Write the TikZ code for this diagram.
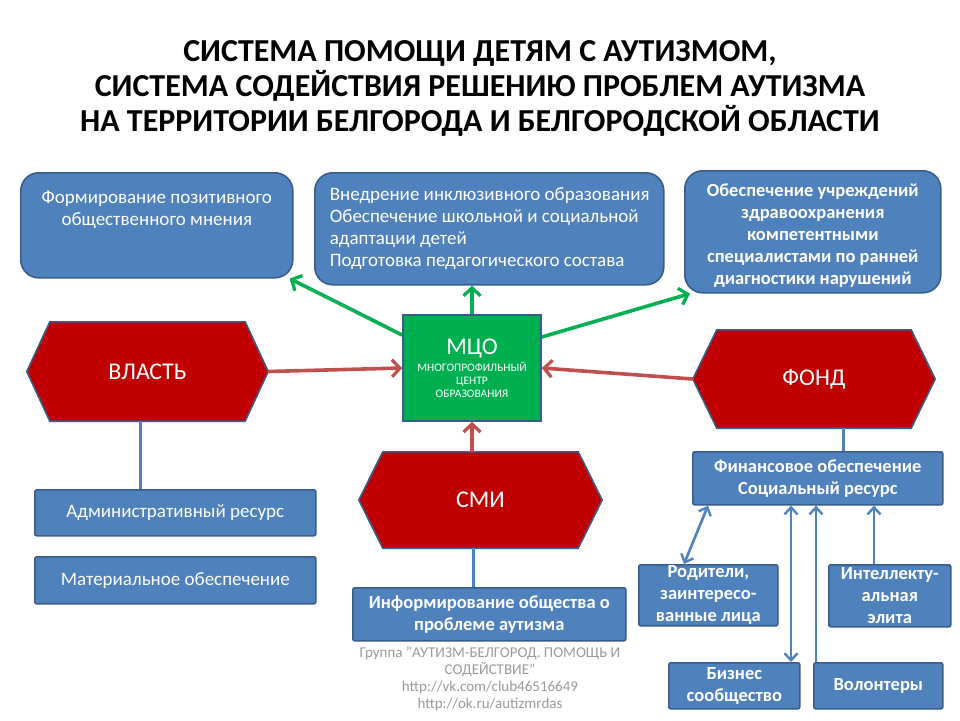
\documentclass[tikz,border=0pt]{standalone}
\usepackage{fontspec}
\setmainfont{Carlito}
\usetikzlibrary{arrows.meta,backgrounds}
\definecolor{boxblue}{HTML}{4F81BD}
\definecolor{boxedge}{HTML}{385D8A}
\definecolor{hexred}{HTML}{C00000}
\definecolor{arrred}{HTML}{C0504D}
\definecolor{arrgreen}{HTML}{00B050}
\definecolor{foot}{HTML}{9A9A9A}
\begin{document}
\begin{tikzpicture}[x=1pt,y=-1pt,
  rbox/.style={fill=boxblue,draw=boxedge,line width=1.6pt,rounded corners=18pt,text=white,inner sep=0pt,anchor=north west},
  sbox/.style={fill=boxblue,draw=boxedge,line width=1.6pt,rounded corners=2pt,text=white,inner sep=0pt,anchor=north west,align=center},
  hexn/.style={inner sep=0pt,text=white,font=\fontsize{24}{28}\selectfont},
  hexshape/.style={fill=hexred,draw=boxedge,line width=1.6pt},
  garrow/.style={draw=arrgreen,line width=3.6pt,-{Straight Barb[length=8pt,width=17pt,line width=3.2pt]}},
  rarrow/.style={draw=arrred,line width=3.6pt,-{Straight Barb[length=8pt,width=17pt,line width=3.2pt]}},
  bline/.style={draw=boxblue,line width=3pt},
  barrow/.style={draw=boxblue,line width=2.6pt,-{Straight Barb[length=7pt,width=13pt,line width=2.4pt]}},
  bdbl/.style={draw=boxblue,line width=2.6pt,{Straight Barb[length=7pt,width=13pt,line width=2.4pt]}-{Straight Barb[length=7pt,width=13pt,line width=2.4pt]}},
  regtxt/.style={font=\fontsize{19}{22}\selectfont},
  boldtxt/.style={font=\fontsize{18.5}{22}\selectfont\bfseries}
]
\useasboundingbox (0,0) rectangle (960,720);
\clip (0,0) rectangle (960,720);

% title
\node[font=\fontsize{32}{35}\selectfont\bfseries,align=center] (title) at (480,88)
  {СИСТЕМА ПОМОЩИ ДЕТЯМ С АУТИЗМОМ,\\СИСТЕМА СОДЕЙСТВИЯ РЕШЕНИЮ ПРОБЛЕМ АУТИЗМА\\НА ТЕРРИТОРИИ БЕЛГОРОДА И БЕЛГОРОДСКОЙ ОБЛАСТИ};

% top boxes
\node[rbox,regtxt,minimum width=272pt,minimum height=105pt] (opin) at (20,172)
  {\parbox[c][105pt][t]{268pt}{\centering\rule{0pt}{31pt}Формирование позитивного\\общественного мнения}};
\node[rbox,regtxt,minimum width=349pt,minimum height=112pt] (incl) at (314,172)
  {\parbox[c][112pt][c]{349pt}{\leftskip=15pt\rightskip=0pt plus 1fil\parindent=0pt Внедрение инклюзивного образования\\Обеспечение школьной и социальной\\адаптации детей\\Подготовка педагогического состава}};
\node[rbox,boldtxt,minimum width=256pt,minimum height=122pt,align=center] (health) at (684,170)
  {\rule{0pt}{20pt}Обеспечение учреждений\\здравоохранения\\компетентными\\специалистами по ранней\\диагностики нарушений};

% MCO
\node[fill=arrgreen,draw=boxedge,line width=1.6pt,minimum width=138pt,minimum height=106pt,text=white,align=center,inner sep=0pt,font=\fontsize{11.5}{13}\selectfont] (mco) at (472,368)
  {{\fontsize{24}{24}\selectfont МЦО}\\[3pt]МНОГОПРОФИЛЬНЫЙ\\ЦЕНТР\\ОБРАЗОВАНИЯ};

% hexagons
\node[hexn,minimum width=241pt,minimum height=99pt] (vl) at (147.5,371.5) {ВЛАСТЬ};
\node[hexn,minimum width=242pt,minimum height=98pt] (fond) at (814,379) {ФОНД};
\node[hexn,minimum width=243pt,minimum height=96pt] (smi) at (480.5,500) {СМИ};
\begin{scope}[on background layer]
\fill[white] (0,0) rectangle (960,720);
\foreach \h/\c in {vl/23,fond/24,smi/24}{
  \draw[hexshape] (\h.west) -- ([xshift=\c pt]\h.north west) -- ([xshift=-\c pt]\h.north east) -- (\h.east)
    -- ([xshift=-\c pt]\h.south east) -- ([xshift=\c pt]\h.south west) -- cycle;
}
\end{scope}

% lower boxes
\node[sbox,regtxt,minimum width=281pt,minimum height=46pt] (adm) at (34,489) {Административный ресурс};
\node[sbox,regtxt,minimum width=281pt,minimum height=47pt] (mat) at (34,556) {Материальное обеспечение};
\node[sbox,boldtxt,minimum width=273pt,minimum height=53pt] (info) at (352,587) {Информирование общества о\\проблеме аутизма};
\node[sbox,boldtxt,minimum width=250pt,minimum height=53pt] (fin) at (692,451) {Финансовое обеспечение\\Социальный ресурс};
\node[sbox,boldtxt,minimum width=139pt,minimum height=61pt] (rod) at (638,564) {Родители,\\заинтересо-\\ванные лица};
\node[sbox,boldtxt,minimum width=122pt,minimum height=62pt] (int) at (828,564) {Интеллекту-\\альная\\элита};
\node[sbox,boldtxt,minimum width=131pt,minimum height=46pt] (biz) at (668,662) {Бизнес\\сообщество};
\node[sbox,boldtxt,minimum width=129pt,minimum height=46pt] (vol) at (813,662) {Волонтеры};

% footer
\node[text=foot,font=\fontsize{15}{17}\selectfont,align=center,anchor=north,inner sep=0pt] (foot) at (490,647)
  {Группа "АУТИЗМ-БЕЛГОРОД. ПОМОЩЬ И\\СОДЕЙСТВИЕ"\\http://vk.com/club46516649\\http://ok.ru/autizmrdas};

% green arrows
\draw[garrow] ([yshift=33pt]mco.west) -- ([xshift=-4pt]opin.south east);
\draw[garrow] (mco.north) -- (mco.north |- incl.south);
\draw[garrow] ([yshift=31pt]mco.east) -- ([xshift=6pt]health.south west);

% red arrows
\draw[rarrow] (vl.east) -- (mco.west);
\draw[rarrow] (fond.west) -- (mco.east);
\draw[rarrow] (mco.south |- smi.north) -- (mco.south);

% blue lines
\draw[bline] ([xshift=-7.5pt]vl.south) -- ([xshift=-7.5pt]vl.south |- adm.north);
\draw[bline] ([xshift=-7.5pt]smi.south) -- ([xshift=-7.5pt]smi.south |- info.north);
\draw[bline] ([xshift=29pt]fond.south) -- ([xshift=29pt]fond.south |- fin.north);

% resource arrows
\draw[bdbl] ([xshift=16pt]fin.south west) -- ([xshift=46pt]rod.north west);
\draw[bdbl] ([xshift=99pt]fin.south west) -- ([xshift=99pt]fin.south west |- biz.north);
\draw[barrow] ([xshift=3pt]vol.north west) -- ([xshift=3pt]vol.north west |- fin.south);
\draw[barrow] ([xshift=46pt]int.north west) -- ([xshift=46pt]int.north west |- fin.south);
\end{tikzpicture}
\end{document}
